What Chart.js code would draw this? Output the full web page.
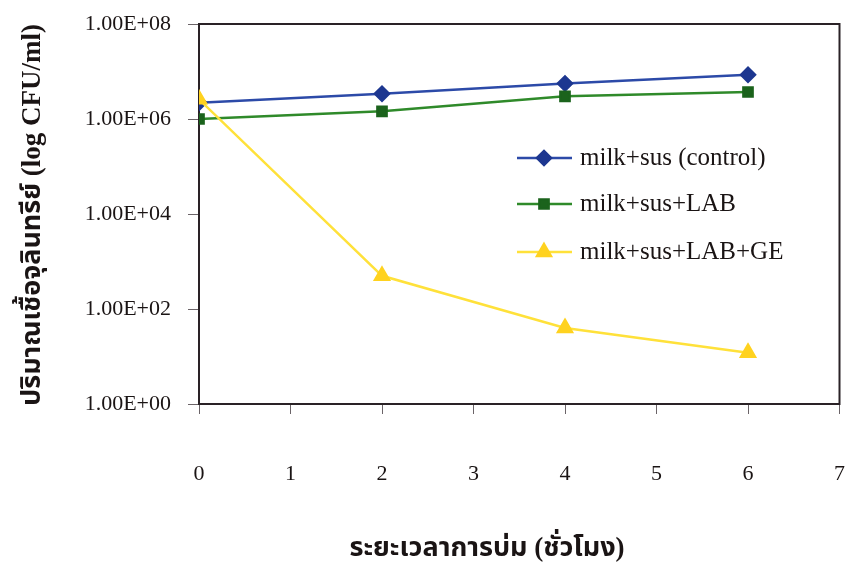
<!DOCTYPE html>
<html>
<head>
<meta charset="utf-8">
<script src="https://cdn.jsdelivr.net/npm/chart.js@4.4.1/dist/chart.umd.min.js"></script>
<style>
  html, body { margin: 0; padding: 0; background: #fff; }
  #wrap { width: 850px; height: 567px; }
</style>
</head>
<body>
<div id="wrap"><canvas id="chart" width="850" height="567"></canvas></div>
<script>
// hours of incubation
const hours = [0, 2, 4, 6];
// log CFU/ml
const control = [2.2e6, 3.4e6, 5.6e6, 8.5e6];
const lab = [1.0e6, 1.45e6, 3.0e6, 3.7e6];
const labGe = [2.6e6, 5.0e2, 40, 12];
const yTicks = [1, 1e2, 1e4, 1e6, 1e8];
const seriesNames = ['milk+sus (control)', 'milk+sus+LAB', 'milk+sus+LAB+GE'];

const yTitle = 'ปริมาณเชื้อจุลินทรีย์ (log CFU/ml)';
const xTitle = 'ระยะเวลาการบ่ม (ชั่วโมง)';

const serif = '"Liberation Serif", "Times New Roman", serif';
const thai = '"Liberation Serif", "Noto Sans Thai", "Noto Serif Thai", "Loma", "Garuda", sans-serif';

function pts(ys) {
	return hours.map((h, i) => ({ x: h, y: ys[i] }));
}

function fmtExp(v) {
	let e = Math.round(Math.log10(v));
	return '1.00E+' + String(e).padStart(2, '0');
}

function noPad(s) {
	s.paddingLeft = 0;
	s.paddingRight = 0;
	s.paddingTop = 0;
	s.paddingBottom = 0;
}

// frame round the plot + legend inside + axis titles
const extras = {
	id: 'extras',
	beforeDatasetsDraw(chart) {
		let a = chart.chartArea;
		let ctx = chart.ctx;
		ctx.save();
		ctx.strokeStyle = '#2a2226';
		ctx.lineWidth = 2;
		ctx.strokeRect(a.left, a.top, a.right - a.left, a.bottom - a.top);
		ctx.restore();
	},
	afterDraw(chart) {
		let ctx = chart.ctx;
		ctx.save();
		// legend
		let lx = 517, ly = [158, 204, 252];
		chart.data.datasets.forEach((ds, i) => {
			let y = ly[i];
			ctx.strokeStyle = ds.borderColor;
			ctx.lineWidth = 2.5;
			ctx.beginPath();
			ctx.moveTo(lx, y);
			ctx.lineTo(lx + 55, y);
			ctx.stroke();
			ctx.fillStyle = ds.pointBackgroundColor;
			ctx.strokeStyle = ds.pointBorderColor;
			Chart.helpers.drawPoint(ctx, {
				pointStyle: ds.pointStyle,
				radius: ds.pointRadius,
				rotation: 0,
				borderWidth: 1
			}, lx + 27, y);
			ctx.fillStyle = '#1a1414';
			ctx.font = '25px ' + serif;
			ctx.textAlign = 'left';
			ctx.textBaseline = 'middle';
			ctx.fillText(seriesNames[i], lx + 63, y);
		});

		// axis titles
		ctx.fillStyle = '#1a1414';
		ctx.font = 'bold 27px ' + thai;
		ctx.textAlign = 'center';
		ctx.textBaseline = 'middle';
		ctx.fillText(xTitle, 487, 549);

		ctx.translate(33, 215);
		ctx.rotate(-Math.PI / 2);
		ctx.fillText(yTitle, 0, 0);
		ctx.restore();
	}
};

const ctx = document.getElementById('chart');
const chart = new Chart(ctx, {
	type: 'line',
	data: {
		datasets: [
			{
				label: seriesNames[0],
				data: pts(control),
				borderColor: '#2c4aa8',
				pointBackgroundColor: '#1d3790',
				pointBorderColor: '#1d3790',
				pointStyle: 'rectRot',
				pointRadius: 7,
				borderWidth: 2.5,
				order: 2
			},
			{
				label: seriesNames[1],
				data: pts(lab),
				borderColor: '#2f8a2a',
				pointBackgroundColor: '#1b631c',
				pointBorderColor: '#1b631c',
				pointStyle: 'rect',
				pointRadius: 6.5,
				borderWidth: 2.5,
				order: 1
			},
			{
				label: seriesNames[2],
				data: pts(labGe),
				borderColor: '#ffe13a',
				pointBackgroundColor: '#ffd21f',
				pointBorderColor: '#ffd21f',
				pointStyle: 'triangle',
				pointRadius: 8,
				borderWidth: 2.5,
				order: 0
			}
		]
	},
	options: {
		responsive: false,
		animation: false,
		layout: { padding: { left: 0, right: 5, top: 24, bottom: 0 } },
		plugins: {
			legend: { display: false },
			tooltip: { enabled: false }
		},
		scales: {
			x: {
				type: 'linear',
				min: 0,
				max: 7,
				afterFit(s) { s.height = 163; noPad(s); },
				border: { display: false },
				grid: { drawOnChartArea: false, tickLength: 10, color: '#6b6468', lineWidth: 1 },
				ticks: {
					stepSize: 1,
					padding: 47,
					color: '#1a1414',
					font: { family: serif, size: 22 }
				}
			},
			y: {
				type: 'logarithmic',
				min: 1,
				max: 1e8,
				afterFit(s) { s.width = 199; noPad(s); },
				afterBuildTicks(s) { s.ticks = yTicks.map(v => ({ value: v })); },
				border: { display: false },
				grid: { drawOnChartArea: false, tickLength: 11, color: '#6b6468', lineWidth: 1 },
				ticks: {
					padding: 17,
					color: '#1a1414',
					font: { family: serif, size: 22 },
					callback: v => fmtExp(v)
				}
			}
		}
	},
	plugins: [extras]
});
</script>
</body>
</html>
